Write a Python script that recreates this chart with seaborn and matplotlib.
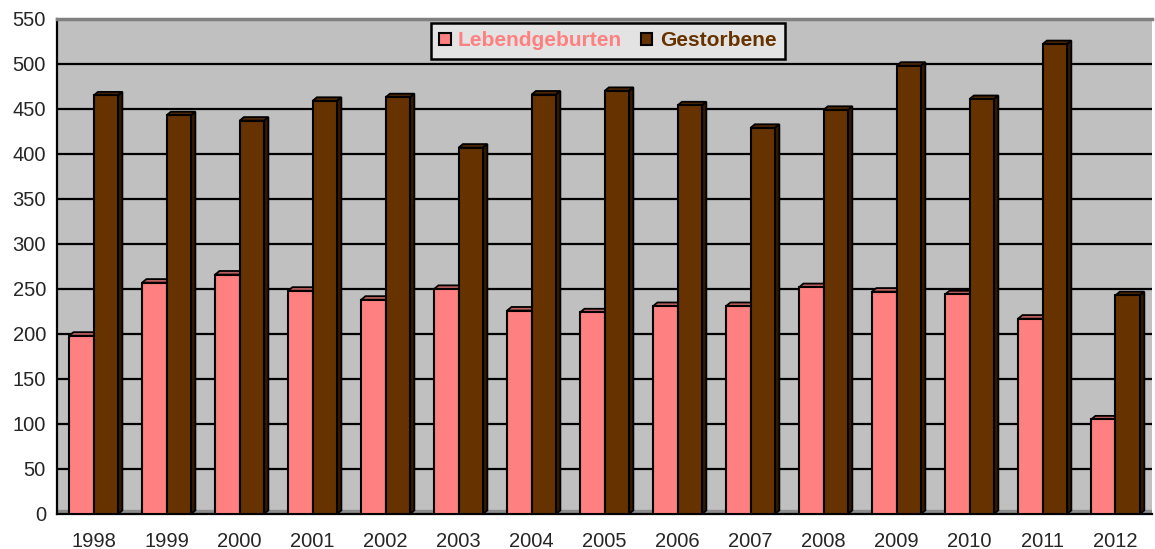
import numpy as np
import pandas as pd
import matplotlib
matplotlib.use("Agg")
import matplotlib.pyplot as plt
import seaborn as sns
from matplotlib.patches import Patch, Polygon
from matplotlib.ticker import MultipleLocator

years = ['1998', '1999', '2000', '2001', '2002', '2003', '2004', '2005',
         '2006', '2007', '2008', '2009', '2010', '2011', '2012']
lebendgeburten = [198, 257, 266, 248, 238, 250, 226, 224, 231, 231, 252, 247, 244, 217, 105]
gestorbene = [465, 443, 437, 459, 463, 407, 466, 470, 454, 429, 449, 498, 461, 522, 243]
series_names = ['Lebendgeburten', 'Gestorbene']
y_ticks = list(range(0, 551, 50))

PINK = '#FF8080'
BROWN = '#663300'

df = pd.DataFrame({
    'Jahr': years * 2,
    'Anzahl': lebendgeburten + gestorbene,
    'Art': [series_names[0]] * len(years) + [series_names[1]] * len(years),
})

sns.set_style('white')
plt.rcParams['font.family'] = ['Liberation Sans', 'DejaVu Sans']

fig = plt.figure(figsize=(11.55, 5.49), dpi=100)
ax = fig.add_axes([0.0494, 0.0638, 0.948, 0.9016])
ax.set_facecolor('#C0C0C0')

sns.barplot(data=df, x='Jahr', y='Anzahl', hue='Art', palette=[PINK, BROWN],
            width=0.67, edgecolor='black', linewidth=1.5, saturation=1,
            legend=False, ax=ax, zorder=3)

ax.set_xlim(-0.5, len(years) - 0.5)
ax.set_ylim(0, 550)

# pseudo-3D depth for each bar
dx, dy = 0.06, 4.0
for p in list(ax.patches):
    x0 = p.get_x()
    w = p.get_width()
    h = p.get_height()
    x1 = x0 + w
    fc = np.array(p.get_facecolor()[:3])
    top = Polygon([(x0, h), (x1, h), (x1 + dx, h + dy), (x0 + dx, h + dy)],
                  closed=True, facecolor=fc * 0.75, edgecolor='black',
                  linewidth=1.3, zorder=2.5)
    side = Polygon([(x1, 0), (x1 + dx, dy), (x1 + dx, h + dy), (x1, h)],
                   closed=True, facecolor=fc * 0.5, edgecolor='black',
                   linewidth=1.3, zorder=2.5)
    ax.add_patch(top)
    ax.add_patch(side)
    p.set_zorder(3)

# floor strip
ax.axhspan(0, dy, color='#8C8C8C', zorder=1)

ax.set_yticks(y_ticks)
ax.yaxis.grid(True, color='black', linewidth=1.6, zorder=0)
ax.set_axisbelow(True)

ax.set_xticks(range(len(years)))
ax.set_xticklabels(years)
ax.xaxis.set_minor_locator(MultipleLocator(1, offset=0.5))
ax.tick_params(axis='x', which='major', length=0, labelsize=14.5, pad=13)
ax.tick_params(axis='x', which='minor', length=6, width=1.5, color='black', direction='out')
ax.tick_params(axis='y', length=6, width=1.5, color='black', direction='out', labelsize=14.5, pad=2)
ax.set_xlabel('')
ax.set_ylabel('')

for s in ['left', 'bottom']:
    ax.spines[s].set_color('black')
    ax.spines[s].set_linewidth(1.6)
ax.spines['top'].set_color('#808080')
ax.spines['top'].set_linewidth(2.5)
ax.spines['right'].set_visible(False)

handles = [Patch(facecolor=PINK, edgecolor='black', linewidth=1.5),
           Patch(facecolor=BROWN, edgecolor='black', linewidth=1.5)]
leg = ax.legend(handles, series_names, loc='upper center', bbox_to_anchor=(0.503, 0.992),
                ncol=2, frameon=True, fancybox=False, framealpha=1,
                facecolor='#E3E3E3', edgecolor='black',
                prop={'weight': 'bold', 'size': 15},
                handlelength=0.55, handleheight=0.55, handletextpad=0.35,
                columnspacing=0.9, borderpad=0.4, borderaxespad=0)
leg.get_frame().set_linewidth(1.8)
for t, c in zip(leg.get_texts(), [PINK, BROWN]):
    t.set_color(c)

fig.savefig('out.png', dpi=100)
